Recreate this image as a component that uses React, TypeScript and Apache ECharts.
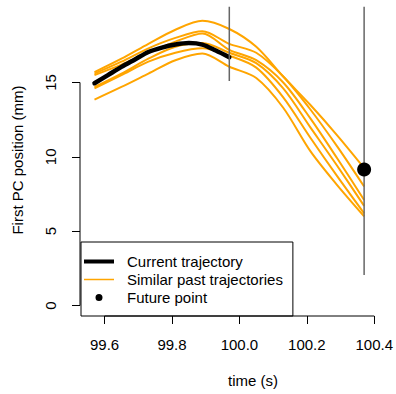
import React, { useEffect, useRef } from "react";
import * as echarts from "echarts";

// ---- data ----
const PAST_TIMES = [99.57, 99.65, 99.73, 99.81, 99.89, 99.97, 100.05, 100.13, 100.21, 100.29, 100.37];
const PAST_A = [15.7, 16.6, 17.6, 18.55, 19.15, 18.6, 17.4, 15.4, 13.5, 11.45, 9.25];
const PAST_B = [15.6, 16.4, 17.3, 18.0, 18.45, 17.6, 17.0, 15.4, 13.2, 10.7, 8.0];
const PAST_C = [15.5, 16.2, 17.0, 17.75, 18.3, 17.2, 16.5, 15.0, 12.6, 9.9, 7.1];
const PAST_D = [14.7, 15.6, 16.6, 17.4, 17.65, 17.0, 16.3, 14.6, 12.0, 9.4, 6.7];
const PAST_E = [14.6, 15.5, 16.4, 17.0, 17.3, 16.8, 16.0, 14.0, 11.3, 8.7, 6.2];
const PAST_F = [13.85, 14.7, 15.6, 16.5, 16.95, 16.06, 15.3, 13.3, 10.4, 8.1, 6.0];
const PAST_SERIES = [PAST_A, PAST_B, PAST_C, PAST_D, PAST_E, PAST_F];

const CURRENT_TIMES = [99.57, 99.61, 99.65, 99.69, 99.73, 99.77, 99.81, 99.85, 99.89, 99.93, 99.97];
const CURRENT_VALUES = [14.95, 15.5, 16.05, 16.55, 17.05, 17.35, 17.55, 17.65, 17.55, 17.15, 16.7];

const FUTURE_TIME = 100.37;
const FUTURE_VALUE = 9.15;

const NOW_MARKER = { time: 99.97, from: 15.1, to: 20.1 };
const FUTURE_MARKER = { time: 100.37, from: 2.05, to: 20.1 };

const X_TICKS = [99.6, 99.8, 100.0, 100.2, 100.4];
const Y_TICKS = [0, 5, 10, 15];

const X_MIN = 99.527;
const X_MAX = 100.403;
const Y_MIN = -0.706;
const Y_MAX = 20.28;

const X_TITLE = "time (s)";
const Y_TITLE = "First PC position (mm)";

const FONT = "'Liberation Sans', Arial, Helvetica, sans-serif";
const ORANGE = "#FFA500";

export default function App() {
  const ref = useRef<HTMLDivElement>(null);

  useEffect(() => {
    if (!ref.current) return;
    const chart = echarts.init(ref.current, undefined, { renderer: "svg" });

    const pastSeries = PAST_SERIES.map((vals) => ({
      type: "line",
      name: "Similar past trajectories",
      data: PAST_TIMES.map((t, i) => [t, vals[i]]),
      symbol: "none",
      smooth: 0.3,
      color: ORANGE,
      lineStyle: { color: ORANGE, width: 2 },
      silent: true,
      z: 2,
    }));

    const option: any = {
      animation: false,
      textStyle: { fontFamily: FONT },
      grid: { left: 80, right: 16, top: 4, bottom: 78 },
      graphic: [
        {
          type: "text",
          x: 253,
          y: 380,
          silent: true,
          style: {
            text: X_TITLE,
            fontSize: 15,
            fontFamily: FONT,
            fill: "#000",
            textAlign: "center",
            textVerticalAlign: "middle",
          },
        },
      ],
      xAxis: {
        type: "value",
        min: X_MIN,
        max: X_MAX,
        axisLine: { show: false, onZero: false },
        splitLine: { show: false },
        axisTick: {
          show: true,
          inside: false,
          length: 8,
          customValues: X_TICKS,
          lineStyle: { color: "#000", width: 1 },
        },
        axisLabel: {
          customValues: X_TICKS,
          margin: 21,
          fontSize: 15,
          color: "#000",
          fontFamily: FONT,
          formatter: (v: number) => v.toFixed(1),
        },
      },
      yAxis: {
        type: "value",
        min: Y_MIN,
        max: Y_MAX,
        name: Y_TITLE,
        nameLocation: "middle",
        nameGap: 55,
        nameTextStyle: { fontSize: 15, color: "#000", fontFamily: FONT },
        axisLine: { show: false, onZero: false },
        splitLine: { show: false },
        axisTick: {
          show: true,
          inside: false,
          length: 8,
          customValues: Y_TICKS,
          lineStyle: { color: "#000", width: 1 },
        },
        axisLabel: {
          customValues: Y_TICKS,
          rotate: 90,
          margin: 22,
          fontSize: 15,
          color: "#000",
          fontFamily: FONT,
          formatter: (v: number) => String(v),
        },
      },
      legend: {
        show: true,
        orient: "vertical",
        left: 81,
        top: 242,
        itemWidth: 38,
        itemHeight: 15,
        itemGap: 3,
        padding: [12, 10, 11, 3],
        borderColor: "#000",
        borderWidth: 1,
        selectedMode: false,
        symbolKeepAspect: true,
        textStyle: { fontSize: 15, color: "#000", fontFamily: FONT, lineHeight: 15 },
        data: [
          {
            name: "Current trajectory",
            icon: "path://M0 0L0.01 0ZM38 15L37.99 15ZM0 5.5H30V9.5H0Z",
            itemStyle: { color: "#000", borderWidth: 0 },
          },
          {
            name: "Similar past trajectories",
            icon: "path://M0 0L0.01 0ZM38 15L37.99 15ZM0 6.75H30V8.25H0Z",
            itemStyle: { color: ORANGE, borderWidth: 0 },
          },
          {
            name: "Future point",
            icon: "path://M0 0L0.01 0ZM38 15L37.99 15ZM18.5 7.5A3.5 3.5 0 1 1 11.5 7.5A3.5 3.5 0 1 1 18.5 7.5Z",
            itemStyle: { color: "#000", borderWidth: 0 },
          },
        ],
      },
      series: [
        ...pastSeries,
        {
          type: "line",
          name: "Current trajectory",
          data: CURRENT_TIMES.map((t, i) => [t, CURRENT_VALUES[i]]),
          symbol: "none",
          smooth: 0.3,
          color: "#000",
          lineStyle: { color: "#000", width: 4.5, join: "round", cap: "round" },
          silent: true,
          z: 3,
        },
        {
          type: "line",
          name: "now-marker",
          data: [
            [NOW_MARKER.time, NOW_MARKER.from],
            [NOW_MARKER.time, NOW_MARKER.to],
          ],
          symbol: "none",
          lineStyle: { color: "#666", width: 1.5 },
          silent: true,
          z: 4,
        },
        {
          type: "line",
          name: "future-marker",
          data: [
            [FUTURE_MARKER.time, FUTURE_MARKER.from],
            [FUTURE_MARKER.time, FUTURE_MARKER.to],
          ],
          symbol: "none",
          lineStyle: { color: "#666", width: 1.5 },
          silent: true,
          z: 4,
        },
        {
          type: "scatter",
          name: "Future point",
          data: [[FUTURE_TIME, FUTURE_VALUE]],
          symbol: "circle",
          symbolSize: 14,
          color: "#000",
          itemStyle: { color: "#000", opacity: 1 },
          silent: true,
          z: 5,
        },
        {
          type: "line",
          name: "x-axis-line",
          data: [
            [X_TICKS[0], Y_MIN],
            [X_TICKS[X_TICKS.length - 1], Y_MIN],
          ],
          symbol: "none",
          clip: false,
          lineStyle: { color: "#000", width: 1 },
          silent: true,
          z: 6,
        },
        {
          type: "line",
          name: "y-axis-line",
          data: [
            [X_MIN, Y_TICKS[0]],
            [X_MIN, Y_TICKS[Y_TICKS.length - 1]],
          ],
          symbol: "none",
          clip: false,
          lineStyle: { color: "#000", width: 1 },
          silent: true,
          z: 6,
        },
      ],
    };

    chart.setOption(option);
    return () => chart.dispose();
  }, []);

  return (
    <div
      ref={ref}
      style={{ position: "fixed", left: 0, top: 0, width: 396, height: 394, background: "#fff" }}
    />
  );
}
